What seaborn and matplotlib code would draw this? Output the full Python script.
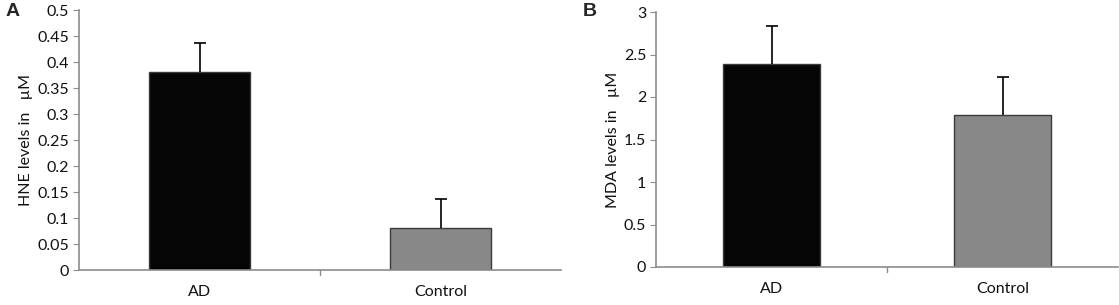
import matplotlib
matplotlib.use("Agg")
import matplotlib.pyplot as plt
import seaborn as sns
import pandas as pd

# data
groups = ["AD", "Control"]
hne_mean = [0.38, 0.08]
hne_err = [0.057, 0.056]
mda_mean = [2.39, 1.79]
mda_err = [0.445, 0.445]
bar_colors = ["#050505", "#888888"]

sns.set_style("white")
plt.rcParams["font.family"] = ["Lato", "DejaVu Sans"]

fig = plt.figure(figsize=(11.19, 3.05), dpi=100)
W, H = 1119, 305
axA = fig.add_axes([79 / W, 35 / H, (561 - 79) / W, 260 / H])
axB = fig.add_axes([656 / W, 38 / H, (1118 - 656) / W, 255 / H])

spine_col = "#8c8c8c"
fs = 11.5


def panel(ax, means, errs, ylim, step, ylabel):
    df = pd.DataFrame({"group": groups, "value": means})
    sns.barplot(data=df, x="group", y="value", hue="group", palette=bar_colors,
                width=0.42, edgecolor="#3a3a3a", linewidth=1.0, legend=False, ax=ax)
    eb = ax.errorbar(range(len(groups)), means, yerr=[[0] * len(errs), errs],
                     fmt="none", ecolor="black", elinewidth=1.2, capsize=4, capthick=1.2)
    eb[1][0].set_visible(False)  # no lower cap
    ax.set_xlim(-0.5, 1.5)
    ax.set_ylim(*ylim)
    ticks = [round(i * step, 2) for i in range(int(round(ylim[1] / step)) + 1)]
    ax.set_yticks(ticks)
    ax.set_yticklabels(["%g" % t for t in ticks], fontsize=fs, color="#111111")
    ax.set_xticks([0, 1])
    ax.set_xticklabels(groups, fontsize=fs, color="#111111")
    ax.tick_params(axis="x", length=0, pad=11)
    ax.tick_params(axis="y", length=4, color=spine_col, direction="out", left=True, pad=3)
    # small tick between the two categories
    ax.plot([0.5, 0.5], [0, -0.02 * ylim[1]], color=spine_col, lw=1, clip_on=False)
    ax.set_xlabel("")
    ax.set_ylabel(ylabel, fontsize=fs, labelpad=3, color="#111111")
    for s in ["top", "right"]:
        ax.spines[s].set_visible(False)
    for s in ["left", "bottom"]:
        ax.spines[s].set_color(spine_col)
        ax.spines[s].set_linewidth(1.2)


panel(axA, hne_mean, hne_err, (0, 0.5), 0.05, "HNE levels in   µM")
panel(axB, mda_mean, mda_err, (0, 3), 0.5, "MDA levels in   µM")

fig.text(6 / W, 1 - 11 / H, "A", fontsize=14, fontweight="bold", va="center",
         family="Liberation Sans")
fig.text(583 / W, 1 - 11 / H, "B", fontsize=14, fontweight="bold", va="center",
         family="Liberation Sans")

fig.savefig("out.png", dpi=100)
